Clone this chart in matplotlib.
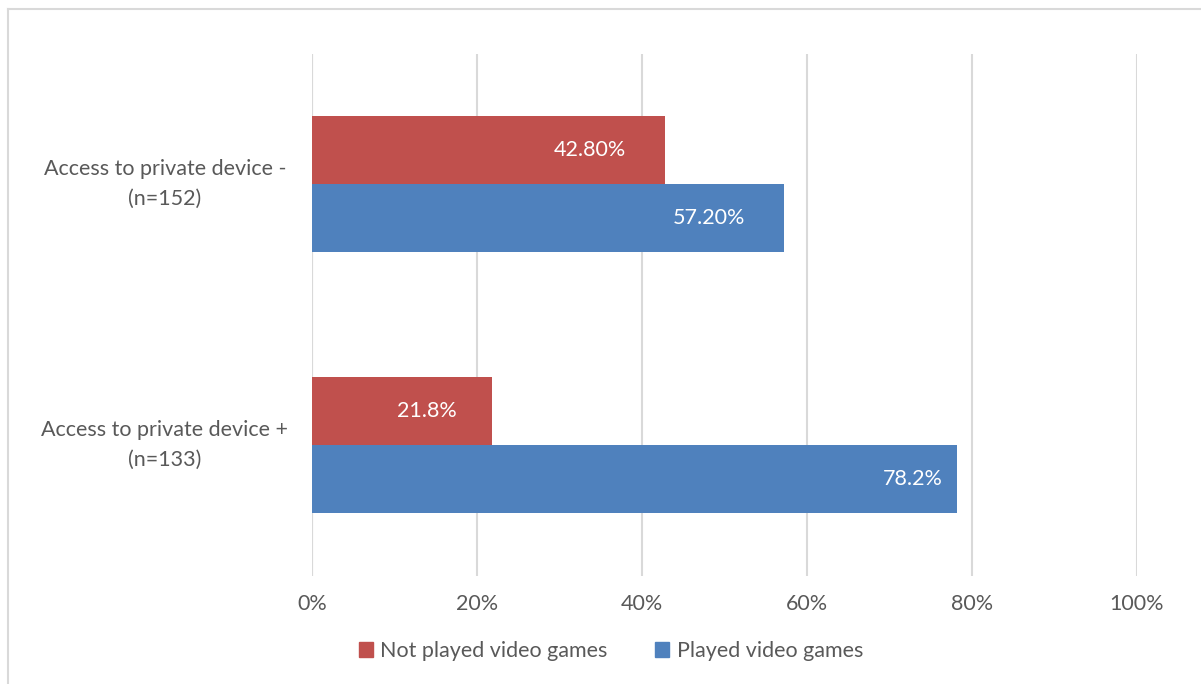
import matplotlib
matplotlib.use("Agg")
import matplotlib.pyplot as plt
from matplotlib.lines import Line2D
from matplotlib.patches import Patch

categories = ["Access to private device -\n(n=152)", "Access to private device +\n(n=133)"]
not_played = [0.428, 0.218]
played = [0.572, 0.782]
not_played_labels = ["42.80%", "21.8%"]
played_labels = ["57.20%", "78.2%"]
xticks = [0, 0.2, 0.4, 0.6, 0.8, 1.0]
xtick_labels = ["0%", "20%", "40%", "60%", "80%", "100%"]
series_names = ["Not played video games", "Played video games"]

RED = "#C0504D"
BLUE = "#4F81BD"
GRAY = "#595959"
GRID = "#D9D9D9"
FS = 15.5

plt.rcParams['font.family'] = ['Lato', 'DejaVu Sans']

W, H = 1201, 684
fig = plt.figure(figsize=(W / 100, H / 100), dpi=100)
ax = fig.add_axes([312 / W, 1 - 575.5 / H, (1137 - 312) / W, (575.5 - 53.5) / H])

ypos = list(range(len(categories)))
bh = 0.26
ax.barh([y - bh / 2 for y in ypos], not_played, height=bh, color=RED, zorder=3)
ax.barh([y + bh / 2 for y in ypos], played, height=bh, color=BLUE, zorder=3)

# label offsets (pixels left of bar end to label centre)
np_off = [-75, -65]
p_off = [-75, -44]
for i, y in enumerate(ypos):
    ax.annotate(not_played_labels[i], xy=(not_played[i], y - bh / 2), xytext=(np_off[i] * 0.72, 0),
                textcoords="offset points", ha="center", va="center", color="white", fontsize=FS, zorder=4)
    ax.annotate(played_labels[i], xy=(played[i], y + bh / 2), xytext=(p_off[i] * 0.72, 0),
                textcoords="offset points", ha="center", va="center", color="white", fontsize=FS, zorder=4)

ax.set_xlim(0, 1)
ax.set_ylim(1.5, -0.5)
ax.set_xticks(xticks)
ax.set_xticklabels(xtick_labels, color=GRAY, fontsize=FS)
ax.set_yticks(ypos)
ax.set_yticklabels(categories, color=GRAY, fontsize=FS, ha="center", va="center", linespacing=1.6)
ax.tick_params(axis="y", length=0, pad=106)
ax.tick_params(axis="x", length=0, pad=13)
ax.grid(axis="x", color=GRID, linewidth=1.5, zorder=0)
for s in ax.spines.values():
    s.set_visible(False)
ax.axvline(0, color=GRID, linewidth=1.5, zorder=2)

handles = [Patch(color=RED), Patch(color=BLUE)]
leg = fig.legend(handles, series_names, loc="center", bbox_to_anchor=(611 / W, 1 - 651 / H),
                 ncol=2, frameon=False, fontsize=FS, handlelength=0.65, handleheight=0.65,
                 handletextpad=0.35, columnspacing=2.2)
for t in leg.get_texts():
    t.set_color(GRAY)

# outer border (left and top)
fig.add_artist(Line2D([8 / W, 8 / W], [0, 1 - 9 / H], color=GRID, linewidth=1.5, transform=fig.transFigure))
fig.add_artist(Line2D([8 / W, 1], [1 - 9 / H, 1 - 9 / H], color=GRID, linewidth=1.5, transform=fig.transFigure))

fig.savefig("out.png", dpi=100)
